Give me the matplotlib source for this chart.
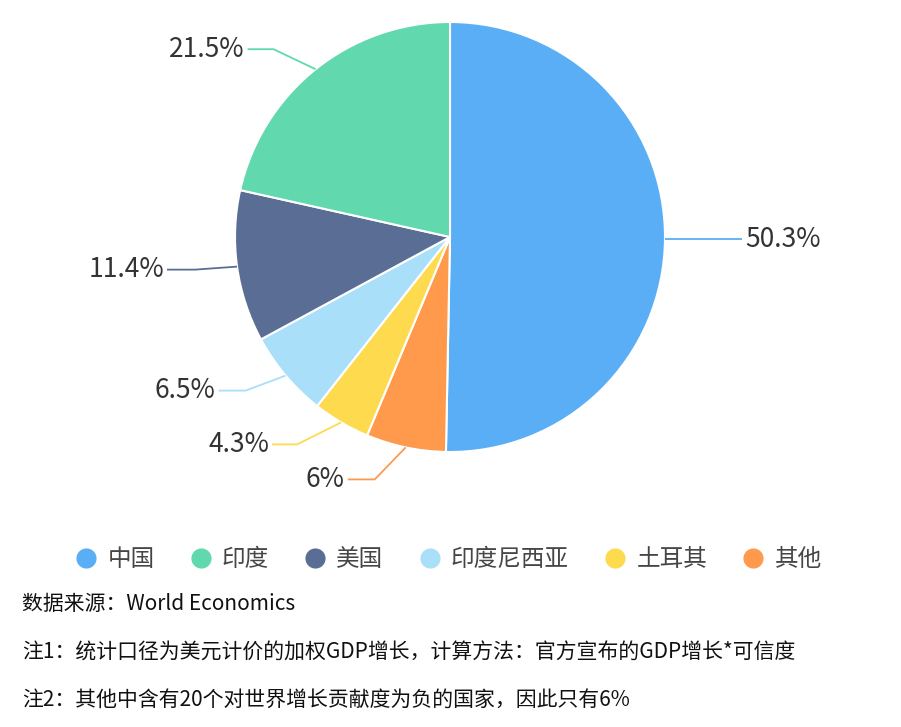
import matplotlib
matplotlib.use("Agg")
import numpy as np
import matplotlib.pyplot as plt
from matplotlib.lines import Line2D

plt.rcParams['font.family'] = ['Noto Sans CJK SC', 'DejaVu Sans']

# data, drawn clockwise from 12 o'clock
countries = ['中国', '其他', '土耳其', '印度尼西亚', '美国', '印度']
shares = [50.3, 6, 4.3, 6.5, 11.4, 21.5]
colors = ['#5aaef5', '#ff9a4d', '#fdda4e', '#a9dff9', '#5a6e95', '#61d8ad']
labels = ['50.3%', '6%', '4.3%', '6.5%', '11.4%', '21.5%']
legend_order = ['中国', '印度', '美国', '印度尼西亚', '土耳其', '其他']
notes = ['数据来源：World Economics',
         '注1：统计口径为美元计价的加权GDP增长，计算方法：官方宣布的GDP增长*可信度',
         '注2：其他中含有20个对世界增长贡献度为负的国家，因此只有6%']

W, H = 901, 727
fig = plt.figure(figsize=(W / 100, H / 100), dpi=100)
ax = fig.add_axes([0, 0, 1, 1])

cx, cy, r = 450, H - 237, 215
wedges, _ = ax.pie(shares, colors=colors, startangle=90, counterclock=False,
                   center=(cx, cy), radius=r,
                   wedgeprops=dict(edgecolor='white', linewidth=1.5))
ax.set_xlim(0, W)
ax.set_ylim(0, H)
ax.set_aspect('equal')
ax.axis('off')

# leader line layout (pixels): elbow offset, horizontal run
elbow = {'中国': (0, 0), '其他': (-31, -32), '土耳其': (-44, -22),
         '印度尼西亚': (-40, -15), '美国': (-42, -3), '印度': (-42, 20)}
run = {'中国': 77, '其他': -27, '土耳其': -25, '印度尼西亚': -27,
       '美国': -28, '印度': -26}

for w, name, lab, col in zip(wedges, countries, labels, colors):
    th = np.deg2rad((w.theta1 + w.theta2) / 2)
    x0, y0 = cx + r * np.cos(th), cy + r * np.sin(th)
    ex, ey = elbow[name]
    x1, y1 = x0 + ex, y0 + ey
    x2 = x1 + run[name]
    ax.plot([x0, x1, x2], [y0, y1, y1], color=col, lw=1.3,
            solid_capstyle='butt')
    ha = 'left' if run[name] > 0 else 'right'
    tx = x2 + (3 if run[name] > 0 else -3)
    ax.text(tx, y1, lab, ha=ha, va='center', fontsize=19, color='#333333')

handles = [Line2D([], [], marker='o', ls='none', markersize=14.5,
                  markerfacecolor=colors[countries.index(n)],
                  markeredgecolor='none') for n in legend_order]
ax.legend(handles, legend_order, loc='center', bbox_to_anchor=(448 / W, 1 - 560 / H),
          bbox_transform=fig.transFigure, ncol=6, frameon=False, fontsize=17,
          handlelength=1.0, handletextpad=0.4, columnspacing=1.45,
          labelcolor='#464646', borderaxespad=0, borderpad=0)

for y, t in zip([604, 653, 700], notes):
    fig.text(22 / W, 1 - y / H, t, ha='left', va='center', fontsize=15,
             color='#111111')

fig.savefig('out.png', dpi=100)
